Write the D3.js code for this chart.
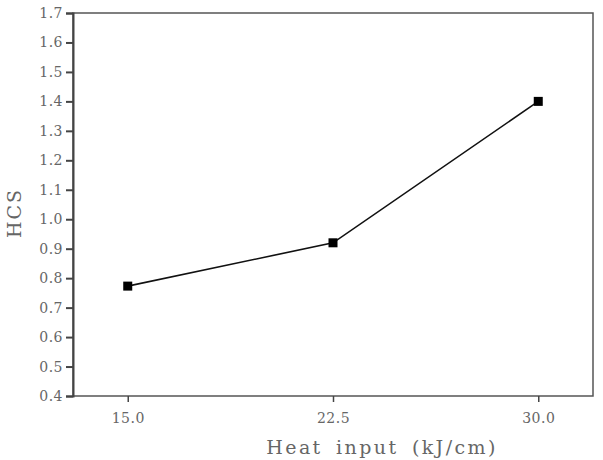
<!DOCTYPE html>
<html>
<head>
<meta charset="utf-8">
<script src="https://cdn.jsdelivr.net/npm/d3@7"></script>
<style>
  body { margin: 0; background: #fff; }
  svg text { font-family: "DejaVu Serif", "Liberation Serif", serif; fill: #666; }
</style>
</head>
<body>
<div id="chart"></div>
<script>
// Data
const heatInput = [15.0, 22.5, 30.0];
const hcsValues = [0.773, 0.92, 1.40];
const xTickValues = [15.0, 22.5, 30.0];
const yTickValues = [0.4, 0.5, 0.6, 0.7, 0.8, 0.9, 1.0, 1.1, 1.2, 1.3, 1.4, 1.5, 1.6, 1.7];

const W = 603, H = 460;
let margin = {top: 13, right: 10, bottom: 64, left: 73},
    width = W - margin.left - margin.right,
    height = H - margin.top - margin.bottom;

let svg = d3.select("#chart")
    .append("svg")
    .attr("width", W)
    .attr("height", H)
    .append("g")
    .attr("transform", "translate(" + margin.left + "," + margin.top + ")");

let x = d3.scaleLinear().domain([13.0, 32.0]).range([0, width]);
let y = d3.scaleLinear().domain([0.4, 1.7]).range([height, 0]);

// frame
svg.append("rect")
    .attr("width", width)
    .attr("height", height)
    .attr("fill", "none")
    .attr("stroke", "#555")
    .attr("stroke-width", 1.5);

// X axis
let xAxis = svg.append("g")
    .attr("transform", "translate(0," + height + ")")
    .call(d3.axisBottom(x).tickValues(xTickValues).tickFormat(d3.format(".1f")).tickSize(6).tickPadding(11));
xAxis.select(".domain").remove();
xAxis.selectAll("line").attr("stroke", "#444").attr("stroke-width", 1.5);
xAxis.selectAll("text").style("font-size", "14px").style("letter-spacing", "0.5px").attr("fill", "#666");

// Y axis
let yAxis = svg.append("g")
    .call(d3.axisLeft(y).tickValues(yTickValues).tickFormat(d3.format(".1f")).tickSize(7).tickPadding(3));
yAxis.select(".domain").attr("stroke", "#444").attr("stroke-width", 2);
yAxis.selectAll("line").attr("stroke", "#444").attr("stroke-width", 2);
yAxis.selectAll("text").style("font-size", "14px").style("letter-spacing", "0.5px").attr("fill", "#666");

// Axis titles
svg.append("text")
    .attr("x", 382 - margin.left)
    .attr("y", 454 - margin.top)
    .attr("text-anchor", "middle")
    .style("font-size", "19px")
    .style("letter-spacing", "2.4px")
    .style("word-spacing", "5px")
    .text("Heat input (kJ/cm)");

svg.append("text")
    .attr("transform", "translate(" + (21 - margin.left) + "," + (213 - margin.top) + ") rotate(-90)")
    .attr("text-anchor", "middle")
    .style("font-size", "19px")
    .style("letter-spacing", "2px")
    .text("HCS");

// line + markers
let pts = heatInput.map(function(d, i) { return {x: d, y: hcsValues[i]}; });

svg.append("path")
    .datum(pts)
    .attr("fill", "none")
    .attr("stroke", "#111")
    .attr("stroke-width", 1.6)
    .attr("d", d3.line().x(function(d) { return x(d.x); }).y(function(d) { return y(d.y); }));

svg.selectAll("rect.pt")
    .data(pts)
    .enter()
    .append("rect")
    .attr("class", "pt")
    .attr("x", function(d) { return x(d.x) - 4.5; })
    .attr("y", function(d) { return y(d.y) - 4.5; })
    .attr("width", 9)
    .attr("height", 9)
    .attr("fill", "#000");
</script>
</body>
</html>
